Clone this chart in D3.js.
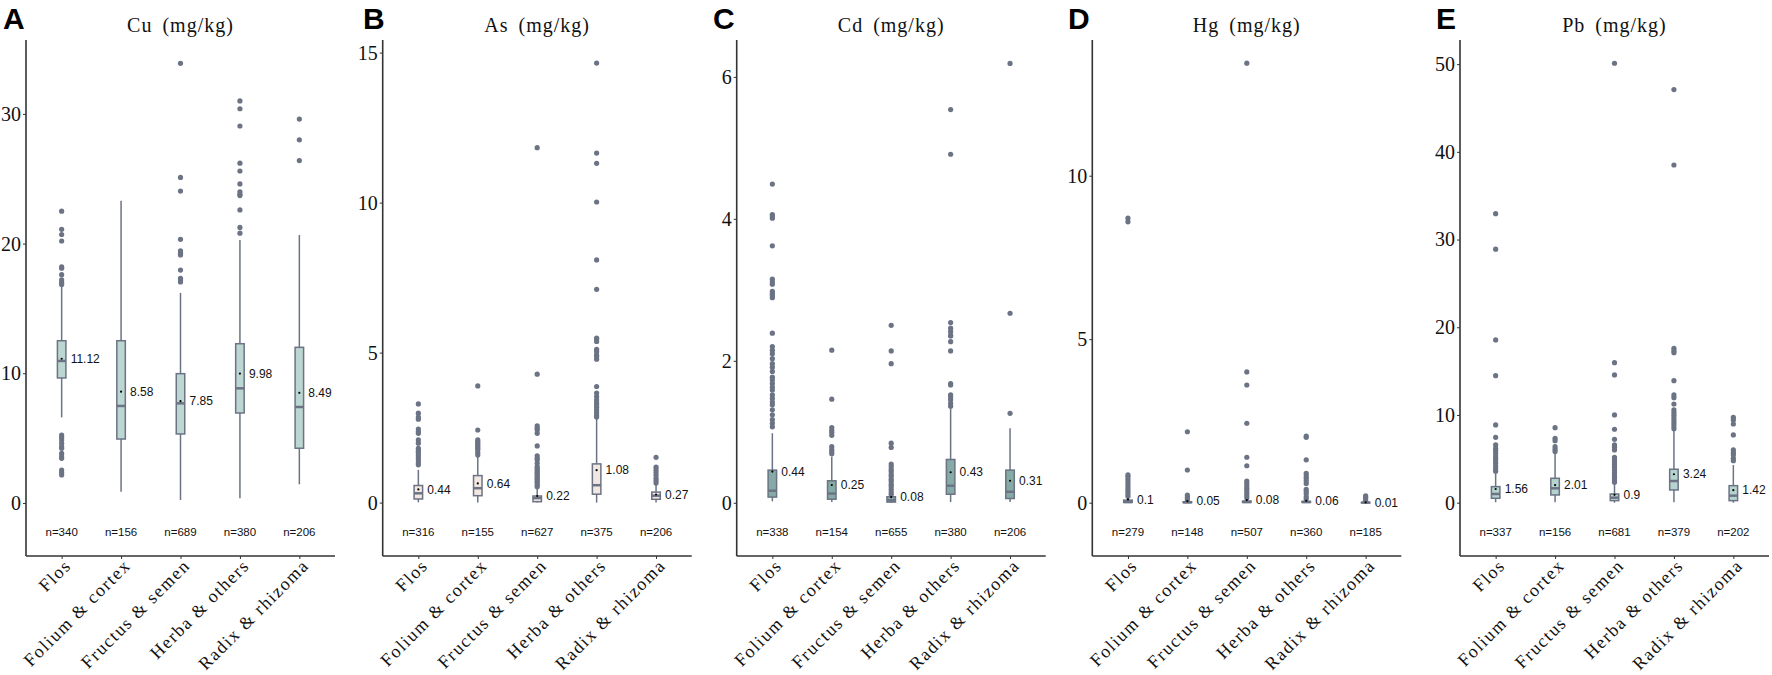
<!DOCTYPE html>
<html>
<head>
<meta charset="utf-8">
<script src="https://cdn.jsdelivr.net/npm/d3@7"></script>
<style>
  body { margin: 0; background: #fff; }
  svg { display: block; }
</style>
</head>
<body>
<svg id="chart" width="1772" height="675"></svg>
<script>
// categories shared by all five panels
let categories = ['Flos', 'Folium & cortex', 'Fructus & semen', 'Herba & others', 'Radix & rhizoma'];
let panelLetters = ['A', 'B', 'C', 'D', 'E'];
let panelTitles = ['Cu (mg/kg)', 'As (mg/kg)', 'Cd (mg/kg)', 'Hg (mg/kg)', 'Pb (mg/kg)'];
let yTicks = [[0, 10, 20, 30], [0, 5, 10, 15], [0, 2, 4, 6], [0, 5, 10], [0, 10, 20, 30, 40, 50]];
let yDomains = [[-4.09, 35.7], [-1.78, 15.42], [-0.75, 6.52], [-1.63, 14.15], [-6.08, 52.75]];

// sample counts
let cuN = [340, 156, 689, 380, 206];
let asN = [316, 155, 627, 375, 206];
let cdN = [338, 154, 655, 380, 206];
let hgN = [279, 148, 507, 360, 185];
let pbN = [337, 156, 681, 379, 202];

// means
let cuMean = [11.12, 8.58, 7.85, 9.98, 8.49];
let asMean = [0.44, 0.64, 0.22, 1.08, 0.27];
let cdMean = [0.44, 0.25, 0.08, 0.43, 0.31];
let hgMean = [0.1, 0.05, 0.08, 0.06, 0.01];
let pbMean = [1.56, 2.01, 0.9, 3.24, 1.42];

// box stats per category: [whisker low, q1, median, q3, whisker high]
let cuBox = [[6.6, 9.64, 10.95, 12.51, 16.7], [0.87, 4.93, 7.48, 12.51, 23.3],
             [0.23, 5.32, 7.68, 9.97, 16.2], [0.36, 6.94, 8.84, 12.28, 20.28],
             [1.44, 4.22, 7.4, 12.0, 20.66]];
let asBox = [[0.01, 0.12, 0.31, 0.57, 1.09], [0.0, 0.23, 0.48, 0.9, 1.55],
             [0.0, 0.03, 0.15, 0.22, 0.47], [0.0, 0.28, 0.58, 1.29, 2.81],
             [0.0, 0.11, 0.23, 0.35, 0.6]];
let cdBox = [[0.02, 0.08, 0.17, 0.46, 0.98], [0.01, 0.05, 0.13, 0.31, 0.65],
             [0.0, 0.01, 0.035, 0.085, 0.11], [0.01, 0.12, 0.24, 0.61, 1.33],
             [0.01, 0.06, 0.155, 0.46, 1.05]];
let hgBox = [[0.0, 0.01, 0.02, 0.08, 0.17], [0.0, 0.005, 0.01, 0.03, 0.07],
             [0.0, 0.01, 0.02, 0.05, 0.11], [0.0, 0.01, 0.02, 0.04, 0.09],
             [0.0, 0.002, 0.005, 0.01, 0.02]];
let pbBox = [[0.05, 0.5, 0.99, 1.83, 3.35], [0.05, 0.88, 1.64, 2.78, 5.63],
             [0.0, 0.23, 0.57, 0.99, 2.13], [0.05, 1.45, 2.47, 3.81, 8.2],
             [0.0, 0.23, 0.8, 1.94, 4.3]];

// outliers per category
let cuOut = [
  [22.5, 21.1, 20.7, 20.2, 18.2, 18.1, 17.6, 17.2, 17.0, 16.85,
   5.24, 5.06, 4.86, 4.6, 4.34, 4.21, 3.83, 3.62, 3.44, 2.54, 2.34, 2.16],
  [],
  [33.9, 25.1, 24.05, 20.33, 19.45, 19.25, 19.12, 17.96, 17.32, 17.19, 17.04],
  [31.0, 30.4, 29.07, 26.2, 25.6, 24.6, 24.0, 23.8, 23.7, 22.6, 21.25, 20.8],
  [29.6, 28.0, 26.4]
];
let asOut = [
  [3.29, 2.98, 2.85, 2.78, 2.45, 2.37, 2.31, 2.09, 1.98, 1.81, 1.73, 1.67, 1.59, 1.5, 1.42, 1.33, 1.26],
  [3.89, 2.42, 2.09, 2.03, 1.98, 1.92, 1.87, 1.81, 1.76, 1.67, 1.59],
  [11.83, 4.28, 2.56, 2.48, 2.42, 2.31, 1.89, 1.56, 1.48, 1.42, 1.31, 1.2, 1.15, 1.09,
   1.03, 0.98, 0.92, 0.87, 0.81, 0.76, 0.7, 0.65, 0.59, 0.53],
  [14.65, 11.65, 11.31, 10.02, 8.09, 7.11, 5.48, 5.45, 5.37, 5.11, 5.03, 4.92, 4.87, 4.78,
   3.87, 3.65, 3.53, 3.42, 3.33, 3.26, 3.18, 3.09, 3.0, 2.92, 2.85],
  [1.51, 1.18, 1.09, 1.0, 0.91, 0.81, 0.73, 0.65]
];
let cdOut = [
  [4.49, 4.06, 4.04, 4.01, 3.62, 3.15, 3.11, 3.08, 2.98, 2.95, 2.92, 2.89, 2.39, 2.2, 2.15,
   2.1, 2.03, 1.96, 1.91, 1.85, 1.77, 1.73, 1.68, 1.63, 1.59, 1.52, 1.47, 1.42, 1.38,
   1.31, 1.24, 1.17, 1.12, 1.07],
  [2.15, 1.46, 1.06, 1.02, 0.99, 0.95, 0.79, 0.75, 0.72, 0.69],
  [2.5, 2.14, 1.96, 0.84, 0.78, 0.545, 0.51, 0.47, 0.44, 0.4, 0.37, 0.33, 0.3, 0.26,
   0.23, 0.19, 0.15, 0.12],
  [5.54, 4.91, 2.54, 2.46, 2.41, 2.36, 2.35, 2.27, 2.14, 1.68, 1.66, 1.52, 1.49, 1.45,
   1.4, 1.36],
  [6.19, 2.67, 1.26]
];
let hgOut = [
  [8.7, 8.59, 0.85, 0.8, 0.72, 0.64, 0.57, 0.49, 0.41, 0.34, 0.27, 0.2],
  [2.17, 1.0, 0.235, 0.165, 0.1],
  [13.44, 4.0, 3.6, 2.43, 1.39, 1.13, 0.66, 0.59, 0.51, 0.44, 0.37, 0.29, 0.21, 0.14],
  [2.04, 2.0, 1.31, 0.9, 0.82, 0.75, 0.67, 0.59, 0.41, 0.34, 0.27, 0.18, 0.12],
  [0.21, 0.165, 0.11, 0.06]
];
let pbOut = [
  [32.95, 28.9, 18.55, 14.48, 8.86, 7.45, 6.58, 6.2, 5.94, 5.63, 5.32, 5.06, 4.79, 4.49,
   4.18, 3.88, 3.58],
  [8.55, 7.34, 7.07, 6.39, 6.09, 5.82],
  [50.1, 15.96, 14.56, 10.0, 8.37, 7.23, 6.58, 6.31, 6.01, 5.18, 4.87, 4.56, 4.3, 4.04,
   3.73, 3.42, 3.16, 2.9, 2.59, 2.33],
  [47.1, 38.5, 17.6, 17.33, 17.1, 13.91, 12.28, 11.97, 11.25, 10.57, 10.26, 9.97, 9.66,
   9.35, 9.05, 8.75, 8.44],
  [9.74, 9.43, 8.97, 7.72, 6.01, 5.7, 5.44, 5.06, 4.79]
];

let panelN = [cuN, asN, cdN, hgN, pbN];
let panelMean = [cuMean, asMean, cdMean, hgMean, pbMean];
let panelBox = [cuBox, asBox, cdBox, hgBox, pbBox];
let panelOut = [cuOut, asOut, cdOut, hgOut, pbOut];

// layout
let axisX = [26, 382.7, 736.7, 1092.3, 1460];
let letterX = [3, 363, 713, 1068, 1436];
let boxFills = ['#bcd6d2', '#f3e7e1', '#86aaa6', '#8fa9a8', '#b6d3ce'];
let plotW = 309;
let plotTop = 40;
let plotBottom = 556;
let grey = '#6b7384';
let boxW = 8.5;

let svg = d3.select('#chart');

for (let p = 0; p < 5; p++) {
  let g = svg.append('g').attr('transform', 'translate(' + axisX[p] + ',0)');

  let x = d3.scalePoint()
      .domain(categories)
      .range([0, plotW])
      .padding(0.6);
  let y = d3.scaleLinear()
      .domain(yDomains[p])
      .range([plotBottom, plotTop]);

  // panel letter and title
  svg.append('text')
      .attr('x', letterX[p])
      .attr('y', 29)
      .style('font', 'bold 30px "Liberation Sans", Arial, sans-serif')
      .text(panelLetters[p]);
  g.append('text')
      .attr('x', plotW / 2)
      .attr('y', 32)
      .attr('text-anchor', 'middle')
      .style('font', '20px "Liberation Serif", serif')
      .style('letter-spacing', '1px')
      .style('word-spacing', '4px')
      .attr('fill', '#111')
      .text(panelTitles[p]);

  // y axis
  let yAxis = d3.axisLeft(y).tickValues(yTicks[p]).tickSize(3).tickPadding(2)
      .tickFormat(d3.format('d'));
  let ya = g.append('g').call(yAxis);
  ya.select('.domain').remove();
  ya.selectAll('line').attr('stroke', '#333').attr('stroke-width', 1);
  ya.selectAll('text')
      .style('font', '20px "Liberation Serif", serif')
      .attr('fill', '#111');
  g.append('line')
      .attr('x1', 0).attr('x2', 0)
      .attr('y1', plotTop).attr('y2', plotBottom)
      .attr('stroke', '#333').attr('stroke-width', 1.6);

  // x axis
  let xAxis = d3.axisBottom(x).tickSize(3).tickFormat('');
  let xa = g.append('g').attr('transform', 'translate(0,' + plotBottom + ')').call(xAxis);
  xa.select('.domain').remove();
  xa.selectAll('line').attr('stroke', '#333').attr('stroke-width', 1);
  g.append('line')
      .attr('x1', 0).attr('x2', plotW)
      .attr('y1', plotBottom).attr('y2', plotBottom)
      .attr('stroke', '#333').attr('stroke-width', 1.6);

  g.selectAll('text.cat')
      .data(categories)
      .join('text')
      .attr('class', 'cat')
      .attr('transform', d => 'translate(' + (x(d) + 3) + ',' + (plotBottom + 3) + ') rotate(-45)')
      .attr('text-anchor', 'end')
      .attr('dy', '0.6em')
      .style('font', '18px "Liberation Serif", serif')
      .style('letter-spacing', '1.5px')
      .attr('fill', '#111')
      .text(d => d);

  // boxes
  let rows = categories.map((c, i) => ({
    cat: c,
    box: panelBox[p][i],
    mean: panelMean[p][i],
    n: panelN[p][i],
    out: panelOut[p][i]
  }));

  let bg = g.selectAll('g.box')
      .data(rows)
      .join('g')
      .attr('class', 'box')
      .attr('transform', d => 'translate(' + x(d.cat) + ',0)');

  bg.append('line')
      .attr('y1', d => y(d.box[0]))
      .attr('y2', d => y(d.box[4]))
      .attr('stroke', grey)
      .attr('stroke-width', 1.5);
  bg.append('rect')
      .attr('x', -boxW / 2)
      .attr('width', boxW)
      .attr('y', d => y(d.box[3]))
      .attr('height', d => Math.max(y(d.box[1]) - y(d.box[3]), 0.5))
      .attr('fill', boxFills[p])
      .attr('stroke', grey)
      .attr('stroke-width', 1.5);
  bg.append('line')
      .attr('x1', -boxW / 2).attr('x2', boxW / 2)
      .attr('y1', d => y(d.box[2]))
      .attr('y2', d => y(d.box[2]))
      .attr('stroke', grey)
      .attr('stroke-width', 2.5);

  bg.selectAll('circle.out')
      .data(d => d.out)
      .join('circle')
      .attr('class', 'out')
      .attr('cy', v => y(v))
      .attr('r', 2.6)
      .attr('fill', grey);

  bg.append('circle')
      .attr('cy', d => y(d.mean))
      .attr('r', 1.1)
      .attr('fill', '#000');

  bg.append('text')
      .attr('x', 9)
      .attr('y', d => y(d.mean))
      .attr('dy', '0.35em')
      .style('font', '12px "Liberation Sans", Arial, sans-serif')
      .attr('fill', '#111')
      .text(d => d.mean);

  bg.append('text')
      .attr('y', 532)
      .attr('dy', '0.35em')
      .attr('text-anchor', 'middle')
      .style('font', '11.5px "Liberation Sans", Arial, sans-serif')
      .attr('fill', '#111')
      .text(d => 'n=' + d.n);
}
</script>
</body>
</html>
